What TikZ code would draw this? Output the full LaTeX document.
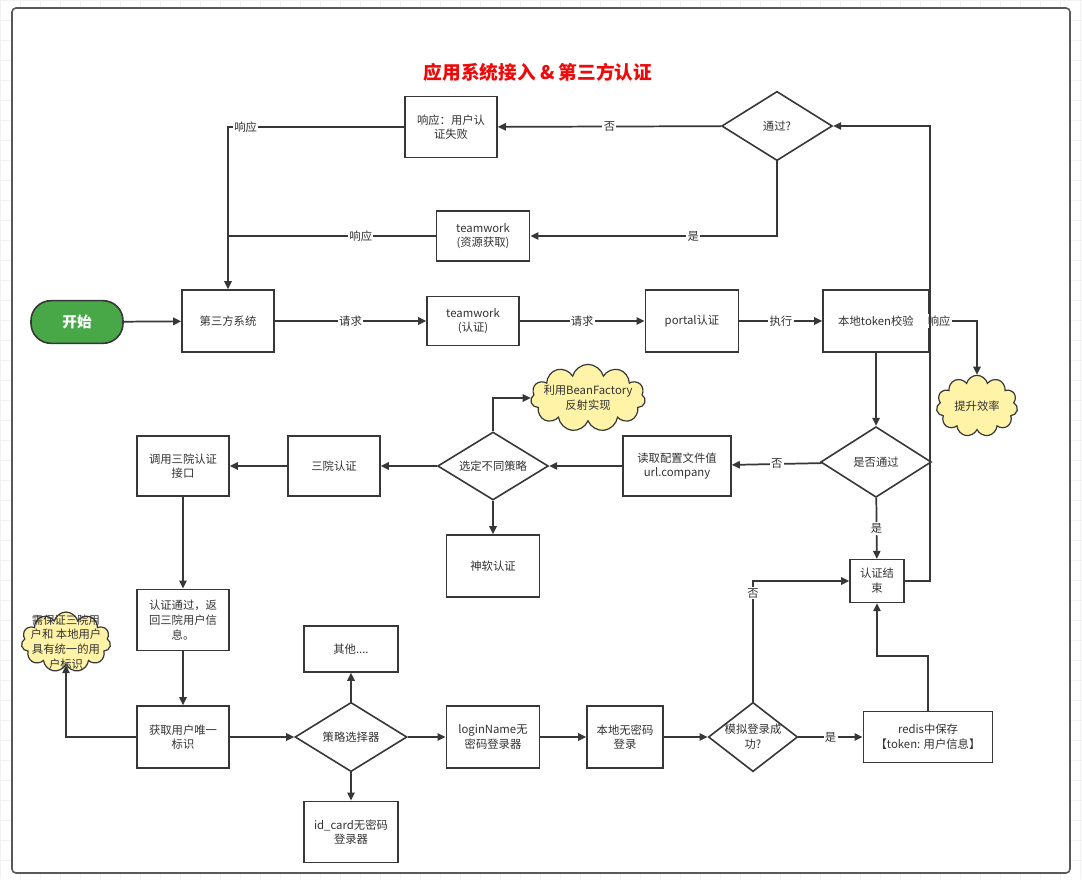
\documentclass[tikz,border=0pt]{standalone}
\usepackage{fontspec}
\setmainfont{Noto Sans CJK SC}
\usepackage{tikz}
\usepackage{xcolor}
\usetikzlibrary{shapes.geometric,shapes.symbols,arrows.meta}
\definecolor{linegray}{RGB}{55,55,55}
\definecolor{textgray}{RGB}{50,50,50}
\definecolor{startgreen}{RGB}{72,168,72}
\definecolor{cloudyellow}{RGB}{255,243,168}
\definecolor{titlered}{RGB}{238,10,10}

\begin{document}
\begin{tikzpicture}[x=0.75pt, y=-0.75pt,
    box/.style={rectangle, draw=linegray, line width=1.2pt, fill=white, align=center,
      text=textgray, font=\fontsize{8.5}{11}\selectfont, inner sep=1pt},
    decision/.style={diamond, draw=linegray, line width=1.2pt, fill=white, align=center,
      text=textgray, font=\fontsize{8.5}{11}\selectfont, aspect=1.6, inner sep=0pt},
    note/.style={cloud, cloud puffs=11, draw=linegray, line width=0.9pt, fill=cloudyellow,
      align=center, text=textgray, font=\fontsize{8.5}{11}\selectfont, inner sep=-3pt},
    startnode/.style={rectangle, rounded corners=15pt, draw=linegray, line width=1.2pt,
      fill=startgreen, text=white, font=\fontsize{11}{13}\selectfont\bfseries,
      minimum width=69pt, minimum height=32pt},
    arrow/.style={draw=linegray, line width=1.3pt, -{Triangle[length=6pt,width=5.5pt]}},
    plain/.style={draw=linegray, line width=1.3pt},
    lbl/.style={fill=white, inner sep=1pt, text=textgray, font=\fontsize{8.5}{10}\selectfont}]

% background and frame
\useasboundingbox (0,0) rectangle (1082,879);
\fill[white] (0,0) rectangle (1082,879);
\foreach \gx in {0,20,...,1080} \draw[gray!10] (\gx,0) -- (\gx,879);
\foreach \gy in {0,20,...,870} \draw[gray!10] (0,\gy) -- (1082,\gy);
\draw[gray!70!black, line width=1.2pt, rounded corners=3pt, fill=white] (12,8) rectangle (1070,873);

\node[text=titlered, font=\fontsize{14}{16}\selectfont\bfseries] (title) at (538,72) {应用系统接入\ \&\ 第三方认证};

% top row
\node[box, minimum width=69pt, minimum height=46pt] (failresp) at (451,127) {响应：用户认\\证失败};
\node[decision, minimum width=83pt, minimum height=52pt] (passed) at (777,126) {通过?};
\node[box, minimum width=70pt, minimum height=37.5pt] (twres) at (483,236) {teamwork\\(资源获取)};

% main row
\node[startnode] (start) at (77,322) {开始};
\node[box, minimum width=69pt, minimum height=46.5pt] (thirdsys) at (228,321) {第三方系统};
\node[box, minimum width=69pt, minimum height=37pt] (twauth) at (473,321) {teamwork\\(认证)};
\node[box, minimum width=70pt, minimum height=46.5pt] (portal) at (692,321) {portal认证};
\node[box, minimum width=79.5pt, minimum height=46.5pt] (tokencheck) at (876,321) {本地token校验};
\node[note, minimum width=61pt, minimum height=46pt, aspect=1.2] (efficiency) at (977,406) {提升效率};

% strategy row
\node[note, minimum width=86pt, minimum height=46pt, aspect=2.2, inner sep=-6pt] (beanfactory) at (588,398) {利用BeanFactory\\反射实现};
\node[decision, minimum width=83pt, minimum height=53pt] (ispass) at (876,462) {是否通过};
\node[box, minimum width=81pt, minimum height=45pt] (readconf) at (677,466) {读取配置文件值\\url.company};
\node[decision, minimum width=83pt, minimum height=51pt] (strategy) at (493,466) {选定不同策略};
\node[box, minimum width=69pt, minimum height=45pt] (sanyuan) at (334,466) {三院认证};
\node[box, minimum width=69pt, minimum height=45pt] (callapi) at (183,466) {调用三院认证\\接口};
\node[box, minimum width=70pt, minimum height=46.5pt] (shenruan) at (493,566) {神软认证};
\node[box, minimum width=40.5pt, minimum height=32pt] (authend) at (877,581) {认证结\\束};

% login row
\node[box, minimum width=69pt, minimum height=46pt] (authok) at (183,620) {认证通过，返\\回三院用户信\\息。};
\node[note, minimum width=67pt, minimum height=45pt, aspect=1.5, inner sep=-10pt] (uniqueid) at (66,642) {需保证三院用\\户和 本地用户\\具有统一的用\\户标识};
\node[box, minimum width=70.5pt, minimum height=34.5pt] (others) at (351,649) {其他....};
\node[box, minimum width=69pt, minimum height=46.5pt] (getid) at (183,737) {获取用户唯一\\标识};
\node[decision, minimum width=84pt, minimum height=52pt] (selector) at (351,737) {策略选择器};
\node[box, minimum width=70pt, minimum height=46.5pt] (loginname) at (493,737) {loginName无\\密码登录器};
\node[box, minimum width=57pt, minimum height=46.5pt] (localnopw) at (625,737) {本地无密码\\登录};
\node[decision, minimum width=66pt, minimum height=52pt, aspect=1.3] (simlogin) at (753,737) {模拟登录成\\功?};
\node[box, minimum width=97pt, minimum height=38pt] (redis) at (928,737) {redis中保存\\【token: 用户信息】};
\node[box, minimum width=70.5pt, minimum height=46pt] (idcard) at (351,832) {id\_card无密码\\登录器};

% connectors
\draw[arrow] (start) -- (thirdsys);
\draw[arrow] (thirdsys) -- node[lbl]{请求} (twauth);
\draw[arrow] (twauth) -- node[lbl]{请求} (portal);
\draw[arrow] (portal) -- node[lbl]{执行} (tokencheck);
\draw[arrow] (tokencheck.east) -| node[lbl, pos=0.1]{响应} (efficiency.north);
\draw[arrow] (authend.east) -| (tokencheck.north east) |- (passed.east);
\draw[arrow] (passed) -- node[lbl]{否} (failresp);
\draw[arrow] (passed.south) |- node[lbl, pos=0.67]{是} (twres.east);
\draw[arrow] (failresp.west) -| node[lbl, pos=0.45]{响应} (thirdsys.north);
\coordinate (respjoin) at (thirdsys.north |- twres.west);
\draw[plain] (twres.west) -- node[lbl, pos=0.36]{响应} (respjoin);

\draw[arrow] (tokencheck) -- (ispass);
\draw[arrow] (ispass) -- node[lbl]{否} (readconf);
\draw[arrow] (readconf) -- (strategy);
\draw[arrow] (strategy) -- (sanyuan);
\draw[arrow] (sanyuan) -- (callapi);
\draw[arrow] (strategy.north) |- (beanfactory.west);
\draw[arrow] (strategy) -- (shenruan);
\draw[arrow] (ispass) -- node[lbl]{是} (authend);

\draw[arrow] (callapi) -- (authok);
\draw[arrow] (authok) -- (getid);
\draw[arrow] (getid.west) -| (uniqueid.south);
\draw[arrow] (getid) -- (selector);
\draw[arrow] (selector) -- (others);
\draw[arrow] (selector) -- (idcard);
\draw[arrow] (selector) -- (loginname);
\draw[arrow] (loginname) -- (localnopw);
\draw[arrow] (localnopw) -- (simlogin);
\draw[arrow] (simlogin) -- node[lbl]{是} (redis);
\draw[arrow] (simlogin.north) |- node[lbl, pos=0.45]{否} (authend.west);
\draw[arrow] (redis.north) -- ++(0,-55) -| (authend.south);
\end{tikzpicture}
\end{document}
